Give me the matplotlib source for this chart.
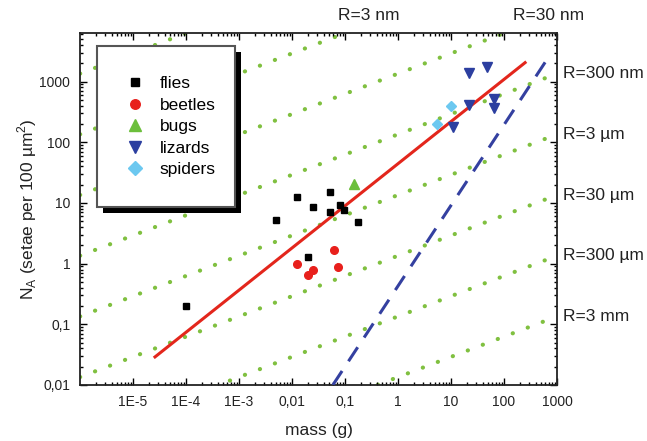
import matplotlib
matplotlib.use('Agg')
import matplotlib.pyplot as plt
from matplotlib.patches import Rectangle
from matplotlib.ticker import LogLocator, FixedLocator, FixedFormatter, NullFormatter

plt.rcParams['font.family'] = ['Liberation Sans', 'DejaVu Sans']
plt.rcParams['mathtext.fontset'] = 'custom'
plt.rcParams['mathtext.rm'] = 'Liberation Sans'

# dados (massa em g, densidade de setas)
flies_m = [1e-4, 0.005, 0.0123, 0.0203, 0.0246, 0.052, 0.052, 0.081, 0.096, 0.174]
flies_n = [0.2, 5.3, 12.7, 1.27, 8.7, 15.3, 7.1, 9.3, 7.7, 4.9]
beetles_m = [0.0123, 0.0203, 0.0246, 0.063, 0.073]
beetles_n = [0.99, 0.64, 0.80, 1.70, 0.88]
bugs_m = [0.15]
bugs_n = [20.3]
lizards_m = [10.8, 22.2, 22.2, 48.4, 64.7, 64.7]
lizards_n = [176, 1400, 415, 1720, 513, 365]
spiders_m = [5.4, 9.9]
spiders_n = [200, 389]

# reta ajustada (vermelha) e reta teorica (tracejada azul)
fit_m = [2.6e-5, 250]
fit_n = [0.029, 2050]
theory_m = [0.059, 740]
theory_n = [0.01, 2760]

# linhas de R constante (pontilhadas verdes), valores nas bordas esquerda e direita
r_m = [1e-6, 1e3]
r_left = [1350, 135, 13.5, 1.35, 0.135, 0.0135, 0.00135, 0.000135]
r_right = [1.35e6, 1.35e5, 1.35e4, 1350, 135, 13.5, 1.35, 0.135]

right_labels = ['R=300 nm', 'R=3 µm', 'R=30 µm', 'R=300 µm', 'R=3 mm']
right_label_n = [1350, 135, 13.5, 1.35, 0.135]
top_labels = ['R=3 nm', 'R=30 nm']
top_label_x = [369, 549]  # px

x_ticks = [1e-5, 1e-4, 1e-3, 1e-2, 1e-1, 1, 10, 100, 1000]
x_labels = ['1E-5', '1E-4', '1E-3', '0,01', '0,1', '1', '10', '100', '1000']
y_ticks = [0.01, 0.1, 1, 10, 100, 1000]
y_labels = ['0,01', '0,1', '1', '10', '100', '1000']

W, H = 647, 441
fig = plt.figure(figsize=(W / 100, H / 100), dpi=100)
ax_l, ax_r, ax_t, ax_b = 80, 557, 33, 385
ax = fig.add_axes([ax_l / W, 1 - ax_b / H, (ax_r - ax_l) / W, (ax_b - ax_t) / H])
ax.set_xscale('log')
ax.set_yscale('log')
ax.set_xlim(1e-6, 1e3)
ax.set_ylim(0.01, 10 ** 3.8)

verde = '#80c040'
for yl, yr in zip(r_left, r_right):
    ax.plot(r_m, [yl, yr], color=verde, lw=3, linestyle=(0, (0.05, 3.8)),
            dash_capstyle='round', zorder=1)

ax.plot(fit_m, fit_n, color='#e3261c', lw=2.2, zorder=3)
ax.plot(theory_m, theory_n, color='#3440a0', lw=2.2, linestyle=(0, (5.5, 3.8)), zorder=3)

ax.plot(flies_m, flies_n, 's', color='black', ms=5, ls='none', label='flies', zorder=4)
ax.plot(beetles_m, beetles_n, 'o', color='#e8201c', ms=5.5, ls='none', label='beetles', zorder=4)
ax.plot(bugs_m, bugs_n, '^', color='#6cbf3c', ms=6.5, ls='none', label='bugs', zorder=4)
ax.plot(lizards_m, lizards_n, 'v', color='#2c3fa0', ms=6.5, ls='none', label='lizards', zorder=4)
ax.plot(spiders_m, spiders_n, 'D', color='#6cc8f0', ms=5.5, ls='none', label='spiders', zorder=4)

# eixos e ticks
ax.xaxis.set_major_locator(FixedLocator(x_ticks))
ax.xaxis.set_major_formatter(FixedFormatter(x_labels))
ax.yaxis.set_major_locator(FixedLocator(y_ticks))
ax.yaxis.set_major_formatter(FixedFormatter(y_labels))
ax.xaxis.set_minor_locator(LogLocator(base=10, subs=range(2, 10), numticks=20))
ax.yaxis.set_minor_locator(LogLocator(base=10, subs=range(2, 10), numticks=20))
ax.xaxis.set_minor_formatter(NullFormatter())
ax.yaxis.set_minor_formatter(NullFormatter())
ax.tick_params(which='both', direction='in', top=True, right=True, labelsize=10,
               labelcolor='#222222', width=1)
ax.tick_params(which='major', length=5, pad=7)
ax.tick_params(which='minor', length=2.5)
for s in ax.spines.values():
    s.set_linewidth(1.3)
    s.set_color('#222222')

# legenda com sombra
bx0, bx1, by0, by1 = 97, 235, 46, 207
sh = 6
def px_rect(x0, y0, x1, y1, **kw):
    return Rectangle(((x0 - ax_l) / (ax_r - ax_l), (ax_b - y1) / (ax_b - ax_t)),
                     (x1 - x0) / (ax_r - ax_l), (y1 - y0) / (ax_b - ax_t),
                     transform=ax.transAxes, clip_on=False, **kw)
ax.add_patch(px_rect(bx0 + sh, by0 + sh, bx1 + sh, by1 + sh, facecolor='black', edgecolor='none', zorder=5))
ax.add_patch(px_rect(bx0, by0, bx1, by1, facecolor='white', edgecolor='#555555', lw=1.5, zorder=5.5))
leg = ax.legend(loc='upper left', bbox_to_anchor=((126.3 - ax_l) / (ax_r - ax_l), (ax_b - 76) / (ax_b - ax_t)),
                frameon=False, fontsize=12.5, handlelength=1.0, handletextpad=0.94,
                borderpad=0, borderaxespad=0, labelspacing=0.37, markerscale=1.25, numpoints=1)
leg.set_zorder(6)

# rotulos de R
for lab, n in zip(right_labels, right_label_n):
    ax.annotate(lab, xy=(1, n), xycoords=('axes fraction', 'data'), xytext=(4.5, 0),
                textcoords='offset points', ha='left', va='center', fontsize=12.5, color='#222222')
for lab, xp in zip(top_labels, top_label_x):
    fig.text(xp / W, 1 - 15 / H, lab, ha='center', va='center', fontsize=12.5, color='#222222')

fig.text(318.5 / W, 1 - 430 / H, 'mass (g)', ha='center', va='center', fontsize=12.5, color='#222222')
fig.text(27 / W, 1 - 209 / H, r'N$_\mathregular{A}$ (setae per 100 µm$^\mathregular{2}$)',
         ha='center', va='center', rotation=90, fontsize=12.5, color='#222222')

fig.savefig('out.png', dpi=100)
